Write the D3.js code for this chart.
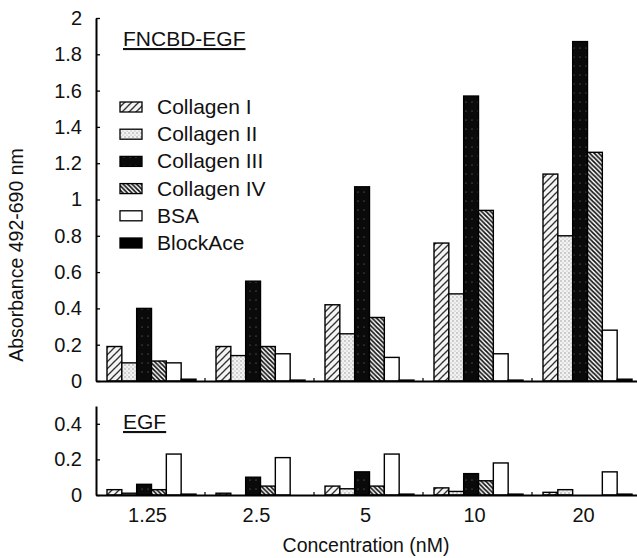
<!DOCTYPE html>
<html>
<head>
<meta charset="utf-8">
<script src="https://cdn.jsdelivr.net/npm/d3@7"></script>
<style>
  body { margin: 0; background: #fff; }
  text { font-family: "Liberation Sans", Arial, Helvetica, sans-serif; fill: #111; }
</style>
</head>
<body>
<div id="chart"></div>
<script>
// concentrations (nM) on the x axis
const concentrations = ["1.25", "2.5", "5", "10", "20"];
const coatings = ["Collagen I", "Collagen II", "Collagen III", "Collagen IV", "BSA", "BlockAce"];

// top panel: FNCBD-EGF, absorbance per coating across concentrations
const fncbdCol1 = [0.19, 0.19, 0.42, 0.76, 1.14];
const fncbdCol2 = [0.10, 0.14, 0.26, 0.48, 0.80];
const fncbdCol3 = [0.40, 0.55, 1.07, 1.57, 1.87];
const fncbdCol4 = [0.11, 0.19, 0.35, 0.94, 1.26];
const fncbdBSA = [0.10, 0.15, 0.13, 0.15, 0.28];
const fncbdBlock = [0.01, 0.005, 0.005, 0.005, 0.01];

// bottom panel: EGF
const egfCol1 = [0.03, 0.01, 0.05, 0.04, 0.015];
const egfCol2 = [0.01, 0, 0.035, 0.02, 0.03];
const egfCol3 = [0.06, 0.10, 0.13, 0.12, 0];
const egfCol4 = [0.03, 0.05, 0.05, 0.08, 0];
const egfBSA = [0.23, 0.21, 0.23, 0.18, 0.13];
const egfBlock = [0.005, 0, 0.005, 0.005, 0.005];

const topTicks = [0, 0.2, 0.4, 0.6, 0.8, 1, 1.2, 1.4, 1.6, 1.8, 2];
const bottomTicks = [0, 0.2, 0.4];

const fncbd = [fncbdCol1, fncbdCol2, fncbdCol3, fncbdCol4, fncbdBSA, fncbdBlock];
const egf = [egfCol1, egfCol2, egfCol3, egfCol4, egfBSA, egfBlock];

function rows(series) {
  const out = [];
  concentrations.forEach((c, i) => {
    coatings.forEach((s, j) => out.push({conc: c, coating: s, value: series[j][i]}));
  });
  return out;
}

const W = 637, H = 558;
const svg = d3.select("#chart").append("svg")
  .attr("width", W).attr("height", H);

// fill patterns imitating the printed hatchings
const defs = svg.append("defs");

const p1 = defs.append("pattern").attr("id", "pCol1")
  .attr("patternUnits", "userSpaceOnUse").attr("width", 7).attr("height", 7);
p1.append("rect").attr("width", 7).attr("height", 7).attr("fill", "#f4f4f4");
p1.append("circle").attr("cx", 1.5).attr("cy", 5).attr("r", 0.6).attr("fill", "#777");
p1.append("circle").attr("cx", 5).attr("cy", 2).attr("r", 0.5).attr("fill", "#888");
p1.append("path").attr("d", "M-1,8 L8,-1 M-1,1 L1,-1 M6,8 L8,6")
  .attr("stroke", "#333").attr("stroke-width", 1.3);

const p2 = defs.append("pattern").attr("id", "pCol2")
  .attr("patternUnits", "userSpaceOnUse").attr("width", 4).attr("height", 4);
p2.append("rect").attr("width", 4).attr("height", 4).attr("fill", "#f2f2f2");
p2.append("circle").attr("cx", 1).attr("cy", 1).attr("r", 0.7).attr("fill", "#8a8a8a");
p2.append("circle").attr("cx", 3).attr("cy", 3).attr("r", 0.6).attr("fill", "#a0a0a0");

const p3 = defs.append("pattern").attr("id", "pCol3")
  .attr("patternUnits", "userSpaceOnUse").attr("width", 6).attr("height", 9);
p3.append("rect").attr("width", 6).attr("height", 9).attr("fill", "#0a0a0a");
p3.append("circle").attr("cx", 4).attr("cy", 3).attr("r", 0.5).attr("fill", "#999");

const p4 = defs.append("pattern").attr("id", "pCol4")
  .attr("patternUnits", "userSpaceOnUse").attr("width", 4.5).attr("height", 4.5);
p4.append("rect").attr("width", 4.5).attr("height", 4.5).attr("fill", "#fff");
p4.append("path").attr("d", "M-1,-1 L5.5,5.5 M-1,3.5 L1,5.5 M3.5,-1 L5.5,1")
  .attr("stroke", "#111").attr("stroke-width", 1.7);

const fills = {
  "Collagen I": "url(#pCol1)",
  "Collagen II": "url(#pCol2)",
  "Collagen III": "url(#pCol3)",
  "Collagen IV": "url(#pCol4)",
  "BSA": "#fff",
  "BlockAce": "#000"
};

const x0 = d3.scaleBand().domain(concentrations).range([96, 641]);
const x1 = d3.scaleBand().domain(coatings).range([11, 100]);

const yTop = d3.scaleLinear().domain([0, 2]).range([381, 18]);
const yBot = d3.scaleLinear().domain([0, 0.5]).range([495, 406]);

function panel(data, y, ticks, title, titleY) {
  const g = svg.append("g");

  g.selectAll("rect.bar")
    .data(rows(data))
    .enter().append("rect")
    .attr("class", "bar")
    .attr("x", d => x0(d.conc) + x1(d.coating))
    .attr("y", d => y(d.value))
    .attr("width", x1.bandwidth())
    .attr("height", d => y(0) - y(d.value))
    .attr("fill", d => fills[d.coating])
    .attr("stroke", "#000")
    .attr("stroke-width", d => d.value > 0 ? 1.4 : 0);

  // horizontal baseline with small marks between the groups
  const xa = g.append("g")
    .attr("transform", `translate(0,${y(0)})`)
    .call(d3.axisBottom(x0).tickSize(0).tickFormat(""));
  xa.select(".domain").attr("stroke-width", 2);
  xa.selectAll(".sep")
    .data(concentrations.slice(1))
    .enter().append("line")
    .attr("class", "sep")
    .attr("x1", d => x0(d)).attr("x2", d => x0(d))
    .attr("y1", 0).attr("y2", -3)
    .attr("stroke", "#000").attr("stroke-width", 1.2);

  const ya = g.append("g")
    .attr("transform", "translate(96,0)")
    .call(d3.axisLeft(y).tickValues(ticks).tickSizeInner(-4).tickSizeOuter(0)
      .tickPadding(14).tickFormat(d3.format("~g")));
  ya.select(".domain").attr("stroke-width", 2);
  ya.selectAll(".tick line").attr("stroke-width", 1.3);
  ya.selectAll(".tick text")
    .style("font-size", "20px")
    .style("font-family", "'Liberation Sans', Arial, sans-serif");

  g.append("text")
    .attr("x", 123).attr("y", titleY)
    .style("font-size", "21px")
    .style("text-decoration", "underline")
    .text(title);
}

panel(fncbd, yTop, topTicks, "FNCBD-EGF", 46);
panel(egf, yBot, bottomTicks, "EGF", 429);

// x tick labels under the bottom panel
svg.append("g")
  .selectAll("text")
  .data(concentrations)
  .enter().append("text")
  .attr("x", d => x0(d) + x0.bandwidth() / 2 - 3)
  .attr("y", 522)
  .attr("text-anchor", "middle")
  .style("font-size", "20px")
  .text(d => d);

// legend
const legend = svg.append("g").attr("transform", "translate(120,100)");
coatings.forEach((c, i) => {
  legend.append("rect")
    .attr("x", 0).attr("y", i * 27.2 + 2)
    .attr("width", 22).attr("height", 10)
    .attr("fill", fills[c])
    .attr("stroke", "#000").attr("stroke-width", 1.3);
  legend.append("text")
    .attr("x", 37).attr("y", i * 27.2 + 14)
    .style("font-size", "21px")
    .text(c);
});

// axis titles
svg.append("text")
  .attr("transform", "translate(23,255) rotate(-90)")
  .attr("text-anchor", "middle")
  .style("font-size", "19.5px")
  .text("Absorbance 492-690 nm");

svg.append("text")
  .attr("x", 366).attr("y", 552)
  .attr("text-anchor", "middle")
  .style("font-size", "19.5px")
  .text("Concentration (nM)");
</script>
</body>
</html>
